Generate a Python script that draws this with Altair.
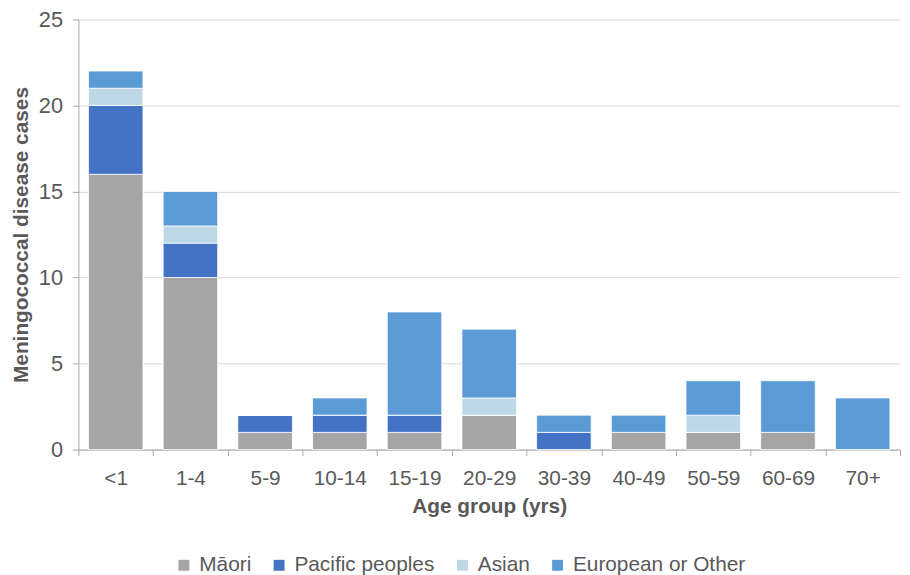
import altair as alt
import pandas as pd

ages = ["<1", "1-4", "5-9", "10-14", "15-19", "20-29", "30-39", "40-49", "50-59", "60-69", "70+"]
groups = ["Māori", "Pacific peoples", "Asian", "European or Other"]
colors = ["#A5A5A5", "#4472C4", "#BDD7E7", "#5B9BD5"]

maori = [16, 10, 1, 1, 1, 2, 0, 1, 1, 1, 0]
pacific = [4, 2, 1, 1, 1, 0, 1, 0, 0, 0, 0]
asian = [1, 1, 0, 0, 0, 1, 0, 0, 1, 0, 0]
european = [1, 2, 0, 1, 6, 4, 1, 1, 2, 3, 3]

rows = []
for gi, (g, vals) in enumerate(zip(groups, [maori, pacific, asian, european])):
    for a, v in zip(ages, vals):
        rows.append({"age": a, "group": g, "cases": v, "ord": gi})
df = pd.DataFrame(rows)

FONT = "Liberation Sans"
GREY = "#595959"

chart = alt.Chart(df).mark_bar(stroke="white", strokeWidth=0.8,
                               width=alt.RelativeBandSize(0.73)).encode(
    x=alt.X("age:N", sort=ages,
            scale=alt.Scale(paddingInner=0, paddingOuter=0),
            axis=alt.Axis(title="Age group (yrs)", labelAngle=0, labelFontSize=21,
                          labelColor=GREY, labelFont=FONT, titleFont=FONT,
                          titleFontSize=21, titleColor=GREY, titleFontWeight="bold",
                          domainColor="#A6A6A6", tickColor="#A6A6A6", tickSize=6,
                          tickBand="extent", labelPadding=12, titlePadding=7)),
    y=alt.Y("sum(cases):Q", stack="zero",
            scale=alt.Scale(domain=[0, 25]),
            axis=alt.Axis(title="Meningococcal disease cases", values=[0, 5, 10, 15, 20, 25],
                          labelFontSize=22, labelColor=GREY, labelFont=FONT,
                          titleFont=FONT, titleFontSize=21, titleColor=GREY,
                          titleFontWeight="bold", domainColor="#A6A6A6",
                          tickColor="#A6A6A6", tickSize=6, gridColor="#D9D9D9",
                          labelPadding=10, titlePadding=7)),
    color=alt.Color("group:N", sort=groups,
                    scale=alt.Scale(domain=groups, range=colors),
                    legend=alt.Legend(title=None, orient="none", direction="horizontal",
                                      legendX=96, legendY=540, symbolType="square",
                                      symbolSize=121, symbolStrokeWidth=0,
                                      labelFontSize=21, labelColor=GREY, labelFont=FONT,
                                      labelLimit=400, columnPadding=17, labelOffset=5)),
    order=alt.Order("ord:Q", sort="ascending"),
).properties(
    width=829, height=434,
    autosize=alt.AutoSizeParams(type="none"),
    padding={"left": 71, "top": 9, "right": 2, "bottom": 124},
).configure_view(stroke=None)

chart.save("out.html", embed_options={"renderer": "svg", "actions": False})
